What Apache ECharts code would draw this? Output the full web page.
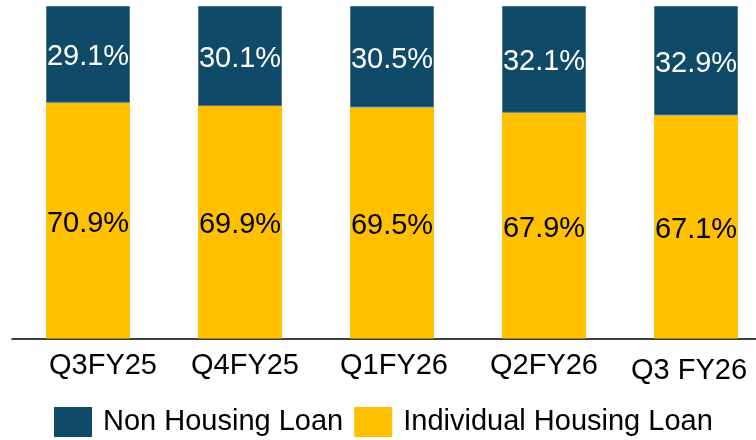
<!DOCTYPE html>
<html>
<head>
<meta charset="utf-8">
<script src="https://cdn.jsdelivr.net/npm/echarts@6/dist/echarts.min.js"></script>
<style>
  html, body { margin: 0; padding: 0; background: #fff; }
  #chart { width: 756px; height: 440px; }
</style>
</head>
<body>
<div id="chart"></div>
<script>
  var categories = ['Q3FY25', 'Q4FY25', 'Q1FY26', 'Q2FY26', 'Q3 FY26'];
  var individualHousing = [70.9, 69.9, 69.5, 67.9, 67.1];
  var nonHousing = [29.1, 30.1, 30.5, 32.1, 32.9];

  // small nudges so the category labels sit like in the slide
  var labelShift = [15, 5, 2, 0, -7];
  var labelDrop = [0, 0, 0, 0, 5];

  var font = '"Liberation Sans", Arial, sans-serif';

  var chart = echarts.init(document.getElementById('chart'));
  chart.setOption({
    animation: false,
    grid: {
      left: 12,
      top: 6,
      right: -16,
      bottom: 101.5,
      containLabel: false,
      outerBoundsMode: 'none'
    },
    legend: {
      left: 54,
      top: 407,
      padding: 0,
      itemWidth: 38,
      itemHeight: 30,
      itemGap: 11,
      icon: 'rect',
      itemStyle: { borderWidth: 0 },
      data: ['Non Housing Loan', 'Individual Housing Loan'],
      textStyle: {
        fontFamily: font,
        fontSize: 29,
        color: '#000',
        padding: [0, 0, 0, 6]
      }
    },
    xAxis: {
      type: 'category',
      data: categories.map(function (c, i) {
        return {
          value: c,
          textStyle: {
            padding: [labelDrop[i], labelShift[i] < 0 ? -2 * labelShift[i] : 0, 0, labelShift[i] > 0 ? 2 * labelShift[i] : 0]
          }
        };
      }),
      axisLine: { lineStyle: { color: '#000', width: 1.5 } },
      axisTick: { show: false },
      axisLabel: {
        fontFamily: font,
        fontSize: 29,
        color: '#000',
        margin: 13
      }
    },
    yAxis: {
      type: 'value',
      min: 0,
      max: 100,
      show: false,
      splitLine: { show: false }
    },
    series: [
      {
        name: 'Individual Housing Loan',
        type: 'bar',
        stack: 'mix',
        barWidth: 84,
        data: individualHousing,
        itemStyle: { color: '#FFC000' },
        label: {
          show: true,
          position: 'inside',
          offset: [0, 3],
          formatter: function (p) { return p.value.toFixed(1) + '%'; },
          fontFamily: font,
          fontSize: 29,
          color: '#000'
        }
      },
      {
        name: 'Non Housing Loan',
        type: 'bar',
        stack: 'mix',
        barWidth: 84,
        data: nonHousing,
        itemStyle: { color: '#0F4A69', borderColor: '#4D7590', borderWidth: 1 },
        label: {
          show: true,
          position: 'inside',
          offset: [0, 3],
          formatter: function (p) { return p.value.toFixed(1) + '%'; },
          fontFamily: font,
          fontSize: 29,
          color: '#fff'
        }
      }
    ]
  });
</script>
</body>
</html>
